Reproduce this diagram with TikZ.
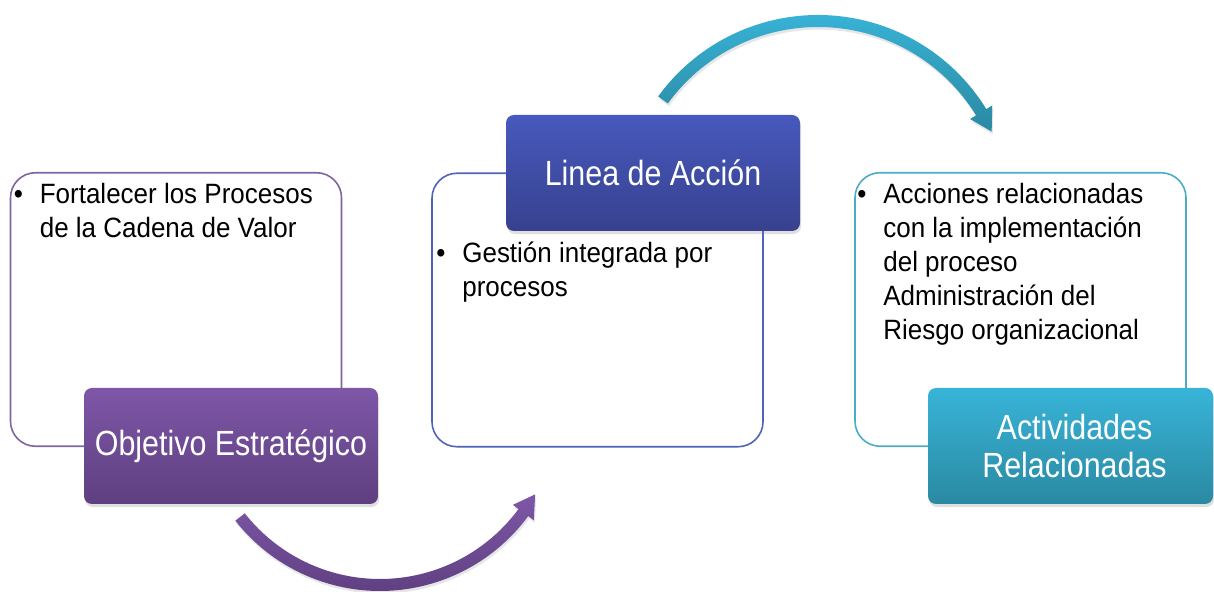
\documentclass[tikz,border=0pt]{standalone}
\usepackage{fontspec}
\setmainfont{Liberation Sans}[FakeStretch=0.93]
\newfontfamily\headfont{Liberation Sans}[FakeStretch=0.87]
\usepackage{xcolor}
\usetikzlibrary{calc, shadows, positioning}

\definecolor{objLine}{HTML}{8064A2}
\definecolor{objTop}{HTML}{7E57A8}
\definecolor{objBot}{HTML}{5E3F7F}
\definecolor{linLine}{HTML}{4F63B8}
\definecolor{linTop}{HTML}{4759BD}
\definecolor{linBot}{HTML}{37418E}
\definecolor{actLine}{HTML}{4BACC6}
\definecolor{actTop}{HTML}{38B4D8}
\definecolor{actBot}{HTML}{2A89A2}

\begin{document}
\begin{tikzpicture}[
  framebox/.style={draw, line width=0.9pt, rounded corners=0.5cm, fill=white,
    minimum width=6.62cm, minimum height=5.47cm},
  headbox/.style={rounded corners=0.16cm, minimum width=5.88cm, minimum height=2.32cm,
    text=white, align=center, font=\headfont\fontsize{19.9}{21.6}\selectfont,
    drop shadow={shadow xshift=0.6pt, shadow yshift=-1.8pt, opacity=0.25}},
  itemtext/.style={anchor=base west, inner sep=0pt, font=\fontsize{15.9}{19.3}\selectfont}
]

\useasboundingbox (0,0) rectangle (24.28,11.84);

% Frames
\node[framebox, draw=objLine] (objFrame) at (3.52, 5.65) {};
\node[framebox, draw=linLine] (linFrame) at (11.95, 5.64) {};
\node[framebox, draw=actLine] (actFrame) at (20.41, 5.65) {};

% Texts inside the frames
\node[itemtext] (objText) at (0.27, 7.76) {\begin{tabular}[t]{@{}p{0.52cm}@{}l@{}}
  \textbullet & Fortalecer los Procesos\\ & de la Cadena de Valor\end{tabular}};
\node[itemtext] (linText) at (8.72, 6.58) {\begin{tabular}[t]{@{}p{0.52cm}@{}l@{}}
  \textbullet & Gestión integrada por\\ & procesos\end{tabular}};
\node[itemtext] (actText) at (17.14, 7.76) {\begin{tabular}[t]{@{}p{0.52cm}@{}l@{}}
  \textbullet & Acciones relacionadas\\ & con la implementación\\ & del proceso\\
  & Administración del\\ & Riesgo organizacional\end{tabular}};

% Headers
\node[headbox, top color=objTop, bottom color=objBot] (objHead) at (4.62, 2.92) {Objetivo Estratégico};
\node[headbox, top color=linTop, bottom color=linBot] (linHead) at (13.06, 8.38) {Linea de Acción};
\node[headbox, top color=actTop, bottom color=actBot, minimum width=5.70cm] (actHead) at (21.41, 2.92)
  {\hspace*{0.16cm}Actividades\\\hspace*{0.16cm}Relacionadas};

% Curved arrows
\coordinate (arcObj) at (7.60, 3.702);
\coordinate (arcLin) at (16.36, 7.588);

\shade[top color=objTop, bottom color=objBot,
  drop shadow={shadow xshift=0.6pt, shadow yshift=-1.5pt, opacity=0.2}]
  ($(arcObj)+(218.2:3.682)$) arc[start angle=218.2, end angle=323.6, radius=3.682]
  -- ($(arcObj)+(323.6:3.822)$) -- ($(arcObj)+(330.6:3.562)$) -- ($(arcObj)+(323.6:3.302)$)
  -- ($(arcObj)+(323.6:3.442)$) arc[start angle=323.6, end angle=218.2, radius=3.442] -- cycle;

\shade[top color=actTop, bottom color=actBot,
  drop shadow={shadow xshift=0.6pt, shadow yshift=-1.5pt, opacity=0.2}]
  ($(arcLin)+(144:3.952)$) arc[start angle=144, end angle=31.6, radius=3.952]
  -- ($(arcLin)+(31.6:4.092)$) -- ($(arcLin)+(25:3.832)$) -- ($(arcLin)+(31.6:3.572)$)
  -- ($(arcLin)+(31.6:3.712)$) arc[start angle=31.6, end angle=144, radius=3.712] -- cycle;

\end{tikzpicture}
\end{document}
